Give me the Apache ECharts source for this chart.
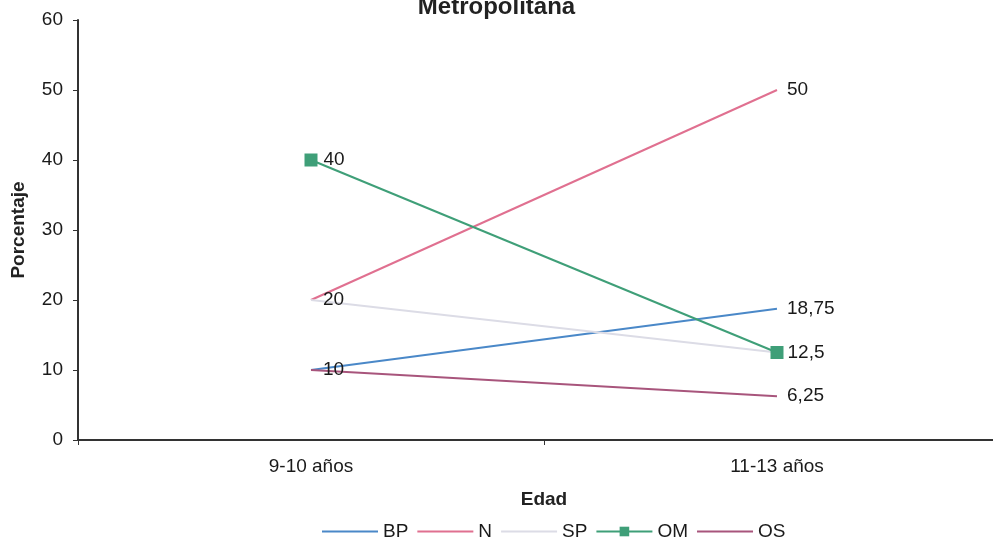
<!DOCTYPE html>
<html>
<head>
<meta charset="utf-8">
<script src="https://cdn.jsdelivr.net/npm/echarts@6/dist/echarts.min.js"></script>
<style>
  html, body { margin: 0; padding: 0; background: #fff; }
  #chart { width: 993px; height: 541px; }
</style>
</head>
<body>
<div id="chart"></div>
<script>
const categories = ['9-10 años', '11-13 años'];
const seriesNames = ['BP', 'N', 'SP', 'OM', 'OS'];
const bp = [10, 18.75];
const n = [20, 50];
const sp = [20, 12.5];
const om = [40, 12.5];
const os = [10, 6.25];

// which points carry a value label (per series)
const bpLabels = [true, true];
const nLabels = [false, true];
const spLabels = [true, false];
const omLabels = [true, true];
const osLabels = [false, true];

const FONT = 'Liberation Sans, Arial';
const fmt = v => String(v).replace('.', ',');

const withLabels = (vals, flags) => vals.map((v, i) => ({
  value: v,
  label: { show: flags[i], distance: i === 0 ? 12 : 10 }
}));

const labelStyle = {
  position: 'right',
  color: '#1a1a1a',
  fontSize: 19,
  fontFamily: FONT,
  formatter: p => fmt(p.value)
};

const mkSeries = (name, vals, flags, color, extra) => Object.assign({
  name: name,
  type: 'line',
  data: withLabels(vals, flags),
  symbol: 'circle',
  symbolSize: 0.1,
  lineStyle: { color: color, width: 2 },
  itemStyle: { color: color },
  label: labelStyle,
  emphasis: { disabled: true }
}, extra || {});

const chart = echarts.init(document.getElementById('chart'));
chart.setOption({
  animation: false,
  title: {
    text: 'Metropolitana',
    left: 'center',
    top: -10,
    textStyle: { fontSize: 24, fontWeight: 'bold', color: '#222', fontFamily: FONT }
  },
  grid: { left: 78, right: -17, top: 20, bottom: 101, outerBoundsMode: 'none' },
  legend: {
    bottom: -5,
    left: 316,
    itemWidth: 56,
    itemHeight: 12,
    itemGap: 8,
    textStyle: { fontSize: 19, color: '#1a1a1a', fontFamily: FONT },
    data: seriesNames.map(s => s === 'OM'
      ? { name: s }
      : { name: s, itemStyle: { opacity: 0 } })
  },
  xAxis: {
    type: 'category',
    data: categories,
    name: 'Edad',
    nameLocation: 'middle',
    nameGap: 50,
    nameTextStyle: { fontSize: 19, fontWeight: 'bold', color: '#222', fontFamily: FONT },
    axisLine: { lineStyle: { color: '#333', width: 2 } },
    axisTick: { show: true, length: 5, lineStyle: { color: '#333' } },
    axisLabel: { fontSize: 19, color: '#1a1a1a', margin: 17, fontFamily: FONT },
    splitLine: { show: false }
  },
  yAxis: {
    type: 'value',
    min: 0,
    max: 60,
    interval: 10,
    name: 'Porcentaje',
    nameLocation: 'middle',
    nameGap: 50,
    nameTextStyle: { fontSize: 19, fontWeight: 'bold', color: '#222', fontFamily: FONT },
    axisLine: { show: true, lineStyle: { color: '#333', width: 2 } },
    axisTick: { show: true, length: 5, lineStyle: { color: '#333' } },
    axisLabel: { fontSize: 19, color: '#1a1a1a', margin: 15, fontFamily: FONT },
    splitLine: { show: false }
  },
  series: [
    mkSeries('BP', bp, bpLabels, '#4a88c8'),
    mkSeries('N', n, nLabels, '#e07090'),
    mkSeries('SP', sp, spLabels, '#dcdce6'),
    mkSeries('OM', om, omLabels, '#3f9f78', {
      symbol: 'rect',
      symbolSize: 13,
      data: om.map((v, i) => ({
        value: v,
        label: { show: omLabels[i], distance: i === 0 ? 6 : 4 }
      }))
    }),
    mkSeries('OS', os, osLabels, '#a8557c')
  ]
});
</script>
</body>
</html>
